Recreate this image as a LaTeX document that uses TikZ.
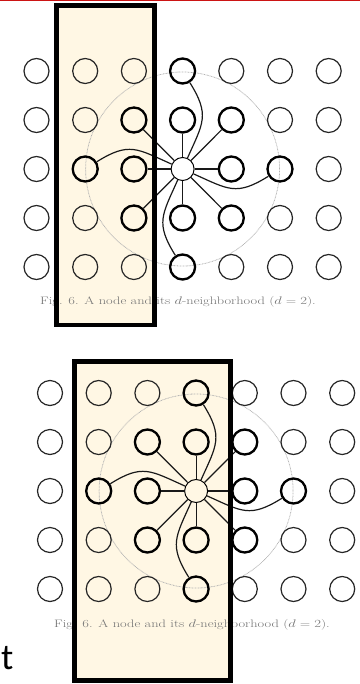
\documentclass[tikz,border=0pt]{standalone}
\usepackage{fontspec}
\newfontfamily\carlito{Carlito}
\usepackage{xcolor}
\usepackage{tikz}
\usetikzlibrary{positioning}
\definecolor{cream}{RGB}{255,247,228}
\definecolor{topred}{RGB}{204,20,20}
\tikzset{
  dot/.style={circle, draw=black!85, line width=1.7pt, minimum size=1.25cm, inner sep=0pt},
  nb/.style={dot, draw=black, line width=3.3pt},
  ctr/.style={circle, draw=black, line width=1.4pt, minimum size=1.15cm, inner sep=0pt},
  lnk/.style={line width=1.7pt, black!90},
  reach/.style={draw=gray!60, densely dotted, line width=1.1pt},
  hl/.style={draw=black, line width=7pt},
  figtext/.style={font=\fontsize{20.5}{22}\selectfont, text=black!55, inner sep=0pt, yscale=0.75}
}

\begin{document}
\begin{tikzpicture}[x=0.05cm, y=0.05cm]
  \useasboundingbox (0,0) rectangle (360,-684);
  \draw[topred, line width=2pt] (0,-0.6) -- (360,-0.6);
  % highlighted columns, fill first
  \fill[cream] (56.5,-5.5) rectangle (154.5,-325);
  \fill[cream] (74.5,-361.5) rectangle (230.5,-680.5);
  % the two grids
  \foreach \p/\ox/\oy in {t/36.5/71, b/50/393}{
    \node[ctr] (\p-c) at ({\ox+3*48.7},{-\oy-2*49}) {};
    \draw[reach] (\p-c) circle[radius=97];
    \foreach \i in {1,...,7}{
      \foreach \j in {1,...,5}{
        \ifnum\numexpr 10*\i+\j\relax=43 \else
          \node[dot] (\p-\i-\j) at ({\ox+(\i-1)*48.7},{-\oy-(\j-1)*49}) {};
        \fi
      }
    }
    % neighbours
    \foreach \i/\j in {4/1,3/2,4/2,5/2,2/3,3/3,5/3,6/3,3/4,4/4,5/4,4/5}
      \node[nb] (\p-\i-\j) at ({\ox+(\i-1)*48.7},{-\oy-(\j-1)*49}) {};
    \foreach \i/\j in {3/2,4/2,5/2,3/3,5/3,3/4,4/4,5/4}
      \draw[lnk] (\p-c) -- (\p-\i-\j);
    \draw[lnk] (\p-c) to[out=66,in=-58,looseness=1.3] (\p-4-1);
    \draw[lnk] (\p-c) to[out=156,in=32,looseness=1.3] (\p-2-3);
    \draw[lnk] (\p-c) to[out=-24,in=-148,looseness=1.3] (\p-6-3);
    \draw[lnk] (\p-c) to[out=-114,in=122,looseness=1.3] (\p-4-5);
  }
  \node[figtext] (cap1) at (178,-302) {Fig. 6. A node and its $d$-neighborhood ($d = 2$).};
  \node[figtext] (cap2) at (192,-625) {Fig. 6. A node and its $d$-neighborhood ($d = 2$).};
  % borders on top
  \draw[hl] (56.5,-5.5) rectangle (154.5,-325);
  \draw[hl] (74.5,-361.5) rectangle (230.5,-680.5);
  \node[anchor=base west, inner sep=0pt, font=\carlito\fontsize{52}{52}\selectfont] (tail) at (1,-669) {t};
\end{tikzpicture}
\end{document}
